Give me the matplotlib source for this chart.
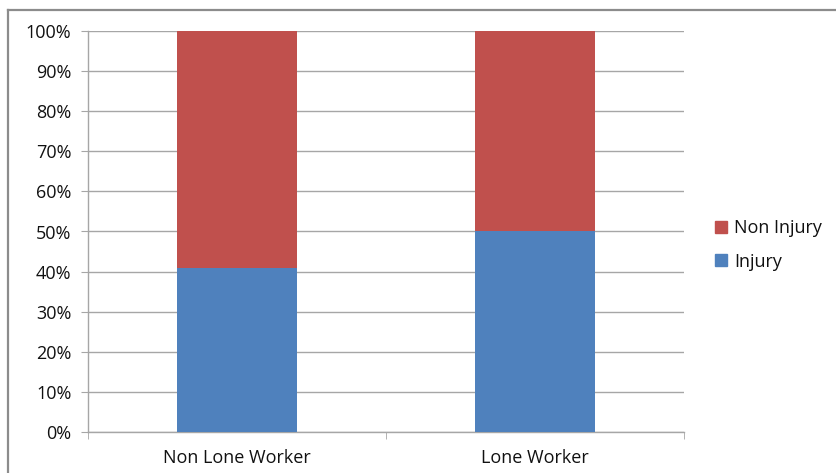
import matplotlib
matplotlib.use("Agg")
import matplotlib.pyplot as plt
from matplotlib.lines import Line2D
from matplotlib.patches import Patch

categories = ["Non Lone Worker", "Lone Worker"]
injury = [41, 50]
non_injury = [59, 50]
y_ticks = [0, 10, 20, 30, 40, 50, 60, 70, 80, 90, 100]

BLUE = "#4F81BD"
RED = "#C0504D"
GRID = "#A6A6A6"
TEXT = "#111111"

plt.rcParams["font.family"] = ["Open Sans", "DejaVu Sans"]

fig = plt.figure(figsize=(8.36, 4.73), dpi=100)
W, H = 836, 473
ax = fig.add_axes([88 / W, 1 - 432 / H, (684 - 88) / W, (432 - 31) / H])

x = list(range(len(categories)))
ax.bar(x, injury, width=0.4, color=BLUE, zorder=3, label="Injury")
ax.bar(x, non_injury, width=0.4, bottom=injury, color=RED, zorder=3, label="Non Injury")

ax.set_xlim(-0.5, len(categories) - 0.5)
ax.set_ylim(0, 100)
ax.set_yticks(y_ticks)
ax.set_yticklabels([f"{v}%" for v in y_ticks], fontsize=13, color=TEXT)
ax.yaxis.grid(True, color=GRID, linewidth=1, zorder=0)
ax.tick_params(axis="y", length=5, color=GRID, pad=7)

ax.set_xticks(x)
ax.set_xticklabels(categories, fontsize=13, color=TEXT)
ax.set_xticks([i - 0.5 for i in range(len(categories) + 1)], minor=True)
ax.tick_params(axis="x", which="major", length=0, pad=12)
ax.tick_params(axis="x", which="minor", length=5, color=GRID)

for side in ("top", "right"):
    ax.spines[side].set_visible(False)
for side in ("left", "bottom"):
    ax.spines[side].set_color(GRID)
    ax.spines[side].set_linewidth(1)

# chart frame: top and left edges
fig.add_artist(Line2D([8 / W, 1], [1 - 10 / H, 1 - 10 / H], color="#8C8C8C", linewidth=1.6))
fig.add_artist(Line2D([8 / W, 8 / W], [0, 1 - 10 / H], color="#8C8C8C", linewidth=1.6))

handles = [Patch(color=RED, label="Non Injury"), Patch(color=BLUE, label="Injury")]
fig.legend(handles=handles, loc="center left", bbox_to_anchor=(699 / W, 1 - 245 / H),
           frameon=False, fontsize=13, handlelength=0.65, handleheight=0.65,
           handletextpad=0.4, labelspacing=0.85, labelcolor=TEXT)

fig.savefig("out.png", dpi=100, facecolor="white")
